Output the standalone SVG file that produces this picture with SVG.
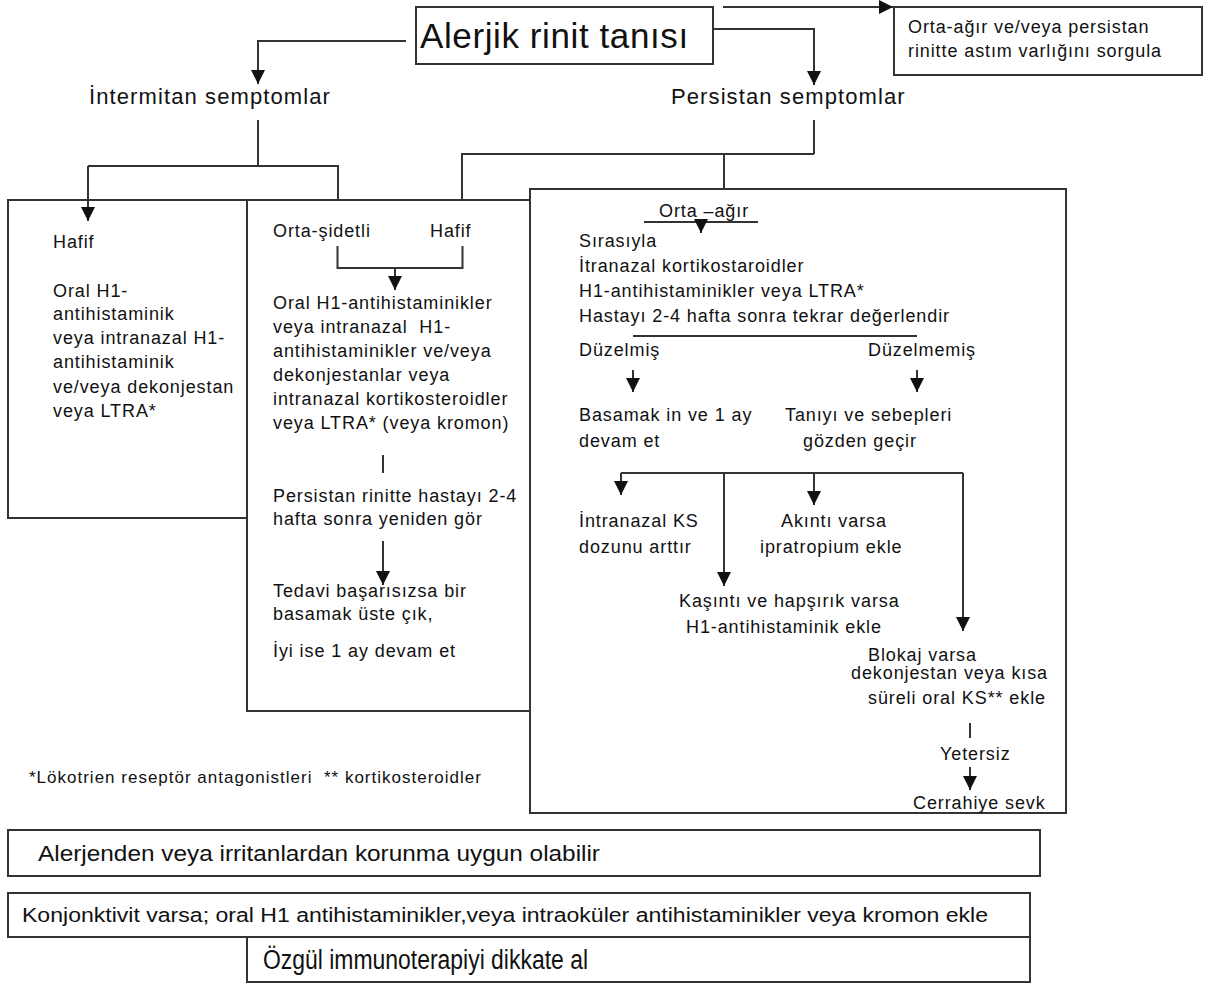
<svg xmlns="http://www.w3.org/2000/svg" width="1208" height="984" viewBox="0 0 1208 984">
<style>
.bg{fill:#fff}
.box{fill:#fff;stroke:#333;stroke-width:2}
.ln{fill:none;stroke:#333;stroke-width:2}
.t{font-family:"Liberation Sans",Arial,sans-serif;font-size:18px;letter-spacing:0.9px;fill:#111}
.m{font-family:"Liberation Sans",Arial,sans-serif;font-size:22px;letter-spacing:1.1px;fill:#111}
.h{font-family:"Liberation Sans",Arial,sans-serif;font-size:35px;letter-spacing:0.6px;fill:#111}
.b{font-family:"Liberation Sans",Arial,sans-serif;fill:#111}
</style>
<defs>
<marker id="ah" viewBox="0 0 10 10" refX="10" refY="5" markerWidth="14" markerHeight="14" markerUnits="userSpaceOnUse" orient="auto">
<path d="M0,0 L10,5 L0,10 z" fill="#111"/>
</marker>
</defs>
<rect class="bg" x="0" y="0" width="1208" height="984"/>

<g id="n-root">
<rect class="box" x="416" y="7" width="297" height="57"/>
<text class="h" x="420" y="48">Alerjik rinit tanısı</text>
</g>
<g id="n-asthma">
<rect class="box" x="894" y="7" width="308" height="68"/>
<text class="t" x="908" y="33">Orta-ağır ve/veya persistan</text>
<text class="t" x="908" y="57">rinitte astım varlığını sorgula</text>
</g>
<g id="n-intermitan">
<text class="m" x="89" y="104">İntermitan semptomlar</text>
</g>
<g id="n-persistan">
<text class="m" x="671" y="104">Persistan semptomlar</text>
</g>

<g id="n-left">
<rect class="box" x="8" y="200" width="239" height="318"/>
<text class="t" x="53" y="248">Hafif</text>
<text class="t" x="53" y="297">Oral H1-</text>
<text class="t" x="53" y="320">antihistaminik</text>
<text class="t" x="53" y="344">veya intranazal H1-</text>
<text class="t" x="53" y="368">antihistaminik</text>
<text class="t" x="53" y="393">ve/veya dekonjestan</text>
<text class="t" x="53" y="417">veya LTRA*</text>
</g>

<g id="n-middle">
<rect class="box" x="247" y="200" width="283" height="511"/>
<text class="t" x="273" y="237">Orta-şidetli</text>
<text class="t" x="430" y="237">Hafif</text>
<text class="t" x="273" y="309">Oral H1-antihistaminikler</text>
<text class="t" x="273" y="333" xml:space="preserve">veya intranazal  H1-</text>
<text class="t" x="273" y="357">antihistaminikler ve/veya</text>
<text class="t" x="273" y="381">dekonjestanlar veya</text>
<text class="t" x="273" y="405">intranazal kortikosteroidler</text>
<text class="t" x="273" y="429">veya LTRA* (veya kromon)</text>
<text class="t" x="273" y="502">Persistan rinitte hastayı 2-4</text>
<text class="t" x="273" y="525">hafta sonra yeniden gör</text>
<text class="t" x="273" y="597">Tedavi başarısızsa bir</text>
<text class="t" x="273" y="620">basamak üste çık,</text>
<text class="t" x="273" y="657">İyi ise 1 ay devam et</text>
</g>

<g id="n-right">
<rect class="box" x="530" y="189" width="536" height="624"/>
<text class="t" x="659" y="217">Orta –ağır</text>
<text class="t" x="579" y="247">Sırasıyla</text>
<text class="t" x="579" y="272">İtranazal kortikostaroidler</text>
<text class="t" x="579" y="297">H1-antihistaminikler veya LTRA*</text>
<text class="t" x="579" y="322">Hastayı 2-4 hafta sonra tekrar değerlendir</text>
<text class="t" x="579" y="356">Düzelmiş</text>
<text class="t" x="868" y="356">Düzelmemiş</text>
<text class="t" x="579" y="421">Basamak in ve 1 ay</text>
<text class="t" x="579" y="447">devam et</text>
<text class="t" x="785" y="421">Tanıyı ve sebepleri</text>
<text class="t" x="803" y="447">gözden geçir</text>
<text class="t" x="579" y="527">İntranazal KS</text>
<text class="t" x="579" y="553">dozunu arttır</text>
<text class="t" x="781" y="527">Akıntı varsa</text>
<text class="t" x="760" y="553">ipratropium ekle</text>
<text class="t" x="679" y="607">Kaşıntı ve hapşırık varsa</text>
<text class="t" x="686" y="633">H1-antihistaminik ekle</text>
<text class="t" x="868" y="661">Blokaj varsa</text>
<text class="t" x="851" y="679">dekonjestan veya kısa</text>
<text class="t" x="868" y="704">süreli oral KS** ekle</text>
<text class="t" x="940" y="760">Yetersiz</text>
<text class="t" x="913" y="809">Cerrahiye sevk</text>
</g>

<g id="n-footnote">
<text class="t" x="29" y="783" style="font-size:17px;letter-spacing:1px" xml:space="preserve">*Lökotrien reseptör antagonistleri  ** kortikosteroidler</text>
</g>

<g id="n-avoid">
<rect class="box" x="8" y="830" width="1032" height="46"/>
<text class="b" x="38" y="861" font-size="22" textLength="562" lengthAdjust="spacingAndGlyphs">Alerjenden veya irritanlardan korunma uygun olabilir</text>
</g>
<g id="n-conj">
<rect class="box" x="8" y="893" width="1022" height="44"/>
<text class="b" x="22" y="922" font-size="20" textLength="966" lengthAdjust="spacingAndGlyphs">Konjonktivit varsa; oral H1 antihistaminikler,veya intraoküler antihistaminikler veya kromon ekle</text>
</g>
<g id="n-immuno">
<rect class="box" x="247" y="937" width="783" height="45"/>
<text class="b" x="263" y="969" font-size="27" textLength="325" lengthAdjust="spacingAndGlyphs">Özgül immunoterapiyi dikkate al</text>
</g>

<g id="connectors">
<path class="ln" d="M406,41 H258 V84" marker-end="url(#ah)"/>
<path class="ln" d="M713,29 H814 V85" marker-end="url(#ah)"/>
<path class="ln" d="M723,7 H893" marker-end="url(#ah)"/>
<path class="ln" d="M258,120 V166 M88,166 H338 V200"/>
<path class="ln" d="M88,166 V221" marker-end="url(#ah)"/>
<path class="ln" d="M814,120 V154 M462,200 V154 H814 M724,154 V189"/>
<path class="ln" d="M337.5,246 V268 H462.5 V246"/>
<path class="ln" d="M395,268 V290" marker-end="url(#ah)"/>
<path class="ln" d="M383,455 V473"/>
<path class="ln" d="M383,541 V585" marker-end="url(#ah)"/>
<path class="ln" d="M644,222 H758"/>
<path class="ln" d="M701,219 V233" marker-end="url(#ah)"/>
<path class="ln" d="M633,336 H917"/>
<path class="ln" d="M633,370 V392" marker-end="url(#ah)"/>
<path class="ln" d="M917,370 V392" marker-end="url(#ah)"/>
<path class="ln" d="M621,473 H963"/>
<path class="ln" d="M621,473 V495" marker-end="url(#ah)"/>
<path class="ln" d="M724,473 V586" marker-end="url(#ah)"/>
<path class="ln" d="M814,473 V505" marker-end="url(#ah)"/>
<path class="ln" d="M963,473 V631" marker-end="url(#ah)"/>
<path class="ln" d="M970,723 V738"/>
<path class="ln" d="M970,767 V790" marker-end="url(#ah)"/>
</g>
</svg>
